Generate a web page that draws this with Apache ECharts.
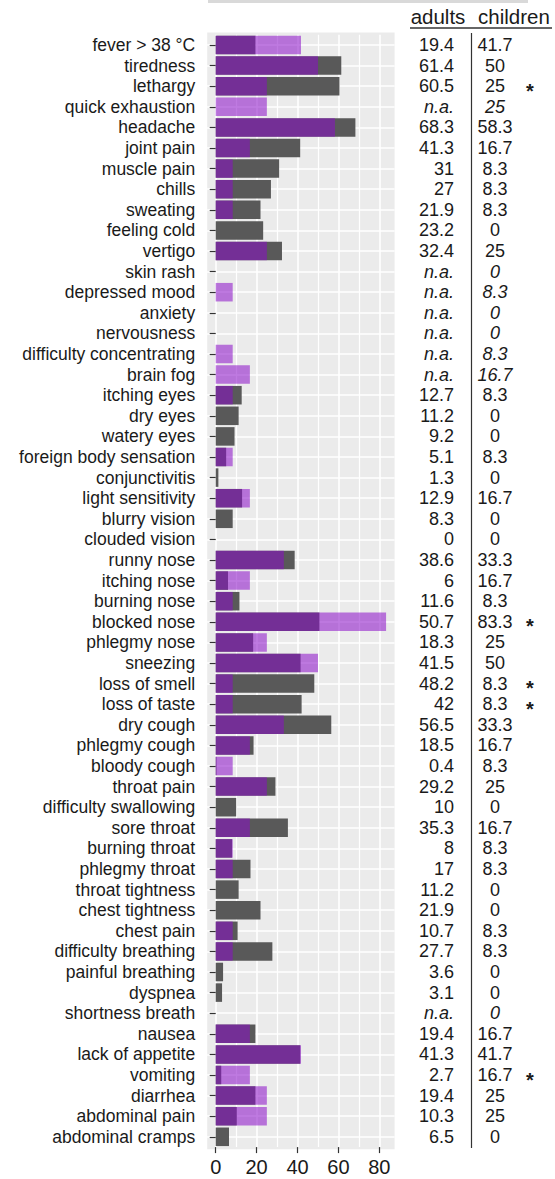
<!DOCTYPE html>
<html>
<head>
<meta charset="utf-8">
<script src="https://cdn.jsdelivr.net/npm/echarts@6/dist/echarts.min.js"></script>
<style>
html,body{margin:0;padding:0;background:#fff;}
#chart{width:555px;height:1179px;}
</style>
</head>
<body>
<div id="chart"></div>
<script>
const categories = ["fever > 38 °C","tiredness","lethargy","quick exhaustion","headache","joint pain","muscle pain","chills","sweating","feeling cold","vertigo","skin rash","depressed mood","anxiety","nervousness","difficulty concentrating","brain fog","itching eyes","dry eyes","watery eyes","foreign body sensation","conjunctivitis","light sensitivity","blurry vision","clouded vision","runny nose","itching nose","burning nose","blocked nose","phlegmy nose","sneezing","loss of smell","loss of taste","dry cough","phlegmy cough","bloody cough","throat pain","difficulty swallowing","sore throat","burning throat","phlegmy throat","throat tightness","chest tightness","chest pain","difficulty breathing","painful breathing","dyspnea","shortness breath","nausea","lack of appetite","vomiting","diarrhea","abdominal pain","abdominal cramps"];
const adults = [19.4,61.4,60.5,null,68.3,41.3,31,27,21.9,23.2,32.4,null,null,null,null,null,null,12.7,11.2,9.2,5.1,1.3,12.9,8.3,0,38.6,6,11.6,50.7,18.3,41.5,48.2,42,56.5,18.5,0.4,29.2,10,35.3,8,17,11.2,21.9,10.7,27.7,3.6,3.1,null,19.4,41.3,2.7,19.4,10.3,6.5];
const children = [41.7,50,25,25,58.3,16.7,8.3,8.3,8.3,0,25,0,8.3,0,0,8.3,16.7,8.3,0,0,8.3,0,16.7,0,0,33.3,16.7,8.3,83.3,25,50,8.3,8.3,33.3,16.7,8.3,25,0,16.7,8.3,8.3,0,0,8.3,8.3,0,0,0,16.7,41.7,16.7,25,25,0];
const marks = ["","","*","","","","","","","","","","","","","","","","","","","","","","","","","","*","","","*","*","","","","","","","","","","","","","","","","","","*","","",""];
const xTicks = [0,20,40,60,80];
const tableHeader = ["adults","children"];

const FONT = "'Liberation Sans', Arial, Helvetica, sans-serif";
const FS_LAB = 17.5;
const FS = 18;
const TXT = '#1a1a1a';

// layout
const W = 555, H = 1179;
const gridLeft = 207.2, gridRightX = 394.6;
const gridTop = 34.7, gridBottomY = 1147.1;
const xMin = -4.165, xMax = 87.465;

const chart = echarts.init(document.getElementById('chart'), null, {renderer: 'svg'});

function tableAxis(margin, align, fmt, extraRich) {
  const rich = Object.assign({it: {fontStyle: 'italic', fontFamily: FONT, fontSize: FS, color: TXT}}, extraRich || {});
  return {
    type: 'category', data: categories, inverse: true, gridIndex: 0,
    position: 'right', offset: 0,
    axisLine: {show: false}, axisTick: {show: false}, splitLine: {show: false},
    axisLabel: {
      interval: 0, margin: margin, align: align, color: TXT,
      fontFamily: FONT, fontSize: FS, formatter: fmt, rich: rich
    }
  };
}

const option = {
  backgroundColor: '#fff',
  animation: false,
  grid: {left: gridLeft, right: W - gridRightX, top: gridTop, bottom: H - gridBottomY, outerBoundsMode: 'none', containLabel: false},
  graphic: [
    {type: 'rect', z: -10, shape: {x: gridLeft, y: 32.6, width: gridRightX - gridLeft, height: 1149.2 - 32.6}, style: {fill: '#EBEBEB'}},
    {type: 'rect', shape: {x: 208, y: 0, width: 320, height: 3}, style: {fill: '#D9D9D9'}},
    {type: 'text', x: 438, y: 16.5, style: {text: tableHeader[0], fontFamily: FONT, fontSize: 20.5, fill: TXT, align: 'center', verticalAlign: 'middle'}},
    {type: 'text', x: 514, y: 16.5, style: {text: tableHeader[1], fontFamily: FONT, fontSize: 20.5, fill: TXT, align: 'center', verticalAlign: 'middle'}},
    {type: 'line', shape: {x1: 410, y1: 28, x2: 552, y2: 28}, style: {stroke: '#333', lineWidth: 1.3}},
    {type: 'line', shape: {x1: 471.5, y1: 33, x2: 471.5, y2: 1148}, style: {stroke: '#333', lineWidth: 1.2}}
  ],
  xAxis: {
    type: 'value', min: xMin, max: xMax, splitNumber: 5,
    axisLine: {show: false},
    axisTick: {show: true, length: 6, lineStyle: {color: '#333', width: 1.2}, customValues: xTicks},
    axisLabel: {color: TXT, fontFamily: FONT, fontSize: 20, margin: 10, customValues: xTicks},
    splitLine: {show: true, lineStyle: {color: '#fff', width: 1.6}},
    minorTick: {show: false, splitNumber: 2},
    minorSplitLine: {show: true, lineStyle: {color: '#fff', width: 1.2}}
  },
  yAxis: [
    {
      type: 'category', data: categories, inverse: true,
      axisLine: {show: false},
      axisTick: {show: true, alignWithLabel: true, length: 6, lineStyle: {color: '#333', width: 1.2}},
      axisLabel: {interval: 0, margin: 12, color: TXT, fontFamily: FONT, fontSize: FS_LAB},
      splitLine: {show: true, alignWithLabel: true, lineStyle: {color: '#fff', width: 1.6}}
    },
    tableAxis(454 - gridRightX, 'right', function (v, i) {
      return adults[i] === null ? '{it|n.a.}' : String(adults[i]);
    }),
    tableAxis(495 - gridRightX, 'center', function (v, i) {
      return adults[i] === null ? '{it|' + children[i] + '}' : String(children[i]);
    }),
    tableAxis(530 - gridRightX, 'center', function (v, i) {
      return marks[i] ? '{s|' + marks[i] + '}' : '';
    }, {s: {fontFamily: FONT, fontSize: 20, fontWeight: 'bold', color: TXT, lineHeight: 10, padding: [9, 0, 0, 0]}})
  ],
  series: [
    {
      name: 'adults', type: 'bar', yAxisIndex: 0, data: adults,
      barWidth: '90%', barGap: '-100%',
      itemStyle: {color: '#595959'}
    },
    {
      name: 'children', type: 'bar', yAxisIndex: 0, data: children,
      barWidth: '90%', barGap: '-100%',
      itemStyle: {color: '#8A0CC8', opacity: 0.55}
    }
  ]
};
chart.setOption(option);
</script>
</body>
</html>
